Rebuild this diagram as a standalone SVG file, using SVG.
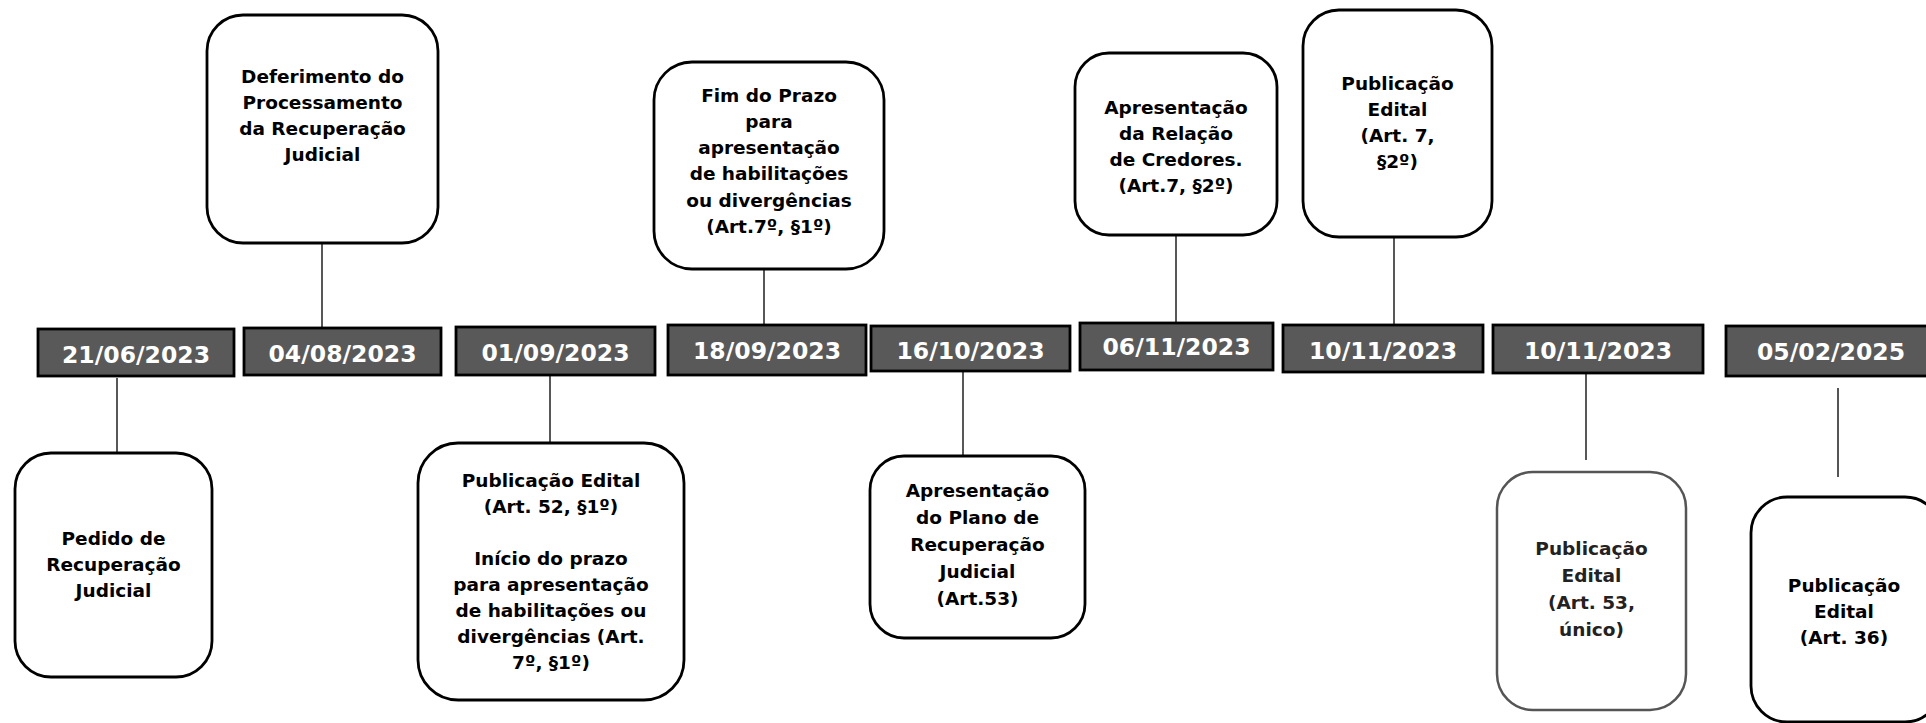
<svg xmlns="http://www.w3.org/2000/svg" width="1926" height="723" viewBox="0 0 1926 723">
<style>
.node{fill:#fff;stroke:#000;stroke-width:2.8}
.node2{fill:#fff;stroke:#555;stroke-width:2.5}
.date{fill:#595959;stroke:#000;stroke-width:2.8}
.dt{font-family:"DejaVu Sans",Verdana,sans-serif;font-weight:bold;font-size:23.5px;fill:#fff;text-anchor:middle}
.tx{font-family:"DejaVu Sans",Verdana,sans-serif;font-weight:bold;font-size:18.5px;fill:#000;text-anchor:middle}
.tx2{font-family:"DejaVu Sans",Verdana,sans-serif;font-weight:bold;font-size:18.5px;fill:#222;text-anchor:middle}
.conn{stroke:#111;stroke-width:1.4;fill:none}
</style>
<rect width="1926" height="723" fill="#fff"/>
<g id="connectors">
<line class="conn" x1="117" y1="378" x2="117" y2="463"/>
<line class="conn" x1="322" y1="243" x2="322" y2="328"/>
<line class="conn" x1="550" y1="375" x2="550" y2="443"/>
<line class="conn" x1="764" y1="269" x2="764" y2="325"/>
<line class="conn" x1="963" y1="371" x2="963" y2="456"/>
<line class="conn" x1="1176" y1="235" x2="1176" y2="323"/>
<line class="conn" x1="1394" y1="237" x2="1394" y2="325"/>
<line class="conn" x1="1586" y1="373" x2="1586" y2="460"/>
<line x1="1838" y1="388" x2="1838" y2="477" stroke="#555" stroke-width="2"/>
</g>
<g id="d1"><rect class="date" x="38" y="329" width="196" height="47"/><text class="dt" x="136" y="363">21/06/2023</text></g>
<g id="d2"><rect class="date" x="244" y="328" width="197" height="47"/><text class="dt" x="342.5" y="362">04/08/2023</text></g>
<g id="d3"><rect class="date" x="456" y="327" width="199" height="48"/><text class="dt" x="555.5" y="361">01/09/2023</text></g>
<g id="d4"><rect class="date" x="668" y="325" width="198" height="50"/><text class="dt" x="767" y="359">18/09/2023</text></g>
<g id="d5"><rect class="date" x="871" y="326" width="199" height="45"/><text class="dt" x="970.5" y="359">16/10/2023</text></g>
<g id="d6"><rect class="date" x="1080" y="323" width="193" height="47"/><text class="dt" x="1176.5" y="355">06/11/2023</text></g>
<g id="d7"><rect class="date" x="1283" y="325" width="200" height="47"/><text class="dt" x="1383" y="359">10/11/2023</text></g>
<g id="d8"><rect class="date" x="1493" y="325" width="210" height="48"/><text class="dt" x="1598" y="359">10/11/2023</text></g>
<g id="d9"><rect class="date" x="1726" y="326" width="210" height="50"/><text class="dt" x="1831" y="360">05/02/2025</text></g>

<g id="n-pedido"><rect class="node" x="15" y="453" width="197" height="224" rx="36"/>
<text class="tx" x="113.5"><tspan x="113.5" y="545">Pedido de</tspan><tspan x="113.5" y="571">Recuperação</tspan><tspan x="113.5" y="597">Judicial</tspan></text></g>

<g id="n-deferimento"><rect class="node" x="207" y="15" width="231" height="228" rx="36"/>
<text class="tx"><tspan x="322.5" y="83">Deferimento do</tspan><tspan x="322.5" y="109">Processamento</tspan><tspan x="322.5" y="135">da Recuperação</tspan><tspan x="322.5" y="161">Judicial</tspan></text></g>

<g id="n-edital52"><rect class="node" x="418" y="443" width="266" height="257" rx="40"/>
<text class="tx"><tspan x="551" y="487">Publicação Edital</tspan><tspan x="551" y="513">(Art. 52, §1º)</tspan><tspan x="551" y="565">Início do prazo</tspan><tspan x="551" y="591">para apresentação</tspan><tspan x="551" y="617">de habilitações ou</tspan><tspan x="551" y="643">divergências (Art.</tspan><tspan x="551" y="669">7º, §1º)</tspan></text></g>

<g id="n-fimprazo"><rect class="node" x="654" y="62" width="230" height="207" rx="38"/>
<text class="tx"><tspan x="769" y="102">Fim do Prazo</tspan><tspan x="769" y="128">para</tspan><tspan x="769" y="154">apresentação</tspan><tspan x="769" y="180">de habilitações</tspan><tspan x="769" y="207">ou divergências</tspan><tspan x="769" y="233">(Art.7º, §1º)</tspan></text></g>

<g id="n-plano"><rect class="node" x="870" y="456" width="215" height="182" rx="34"/>
<text class="tx"><tspan x="977.5" y="497">Apresentação</tspan><tspan x="977.5" y="524">do Plano de</tspan><tspan x="977.5" y="551">Recuperação</tspan><tspan x="977.5" y="578">Judicial</tspan><tspan x="977.5" y="605">(Art.53)</tspan></text></g>

<g id="n-relacao"><rect class="node" x="1075" y="53" width="202" height="182" rx="34"/>
<text class="tx"><tspan x="1176" y="114">Apresentação</tspan><tspan x="1176" y="140">da Relação</tspan><tspan x="1176" y="166">de Credores.</tspan><tspan x="1176" y="192">(Art.7, §2º)</tspan></text></g>

<g id="n-edital7"><rect class="node" x="1303" y="10" width="189" height="227" rx="36"/>
<text class="tx"><tspan x="1397.5" y="90">Publicação</tspan><tspan x="1397.5" y="116">Edital</tspan><tspan x="1397.5" y="142">(Art. 7,</tspan><tspan x="1397.5" y="168">§2º)</tspan></text></g>

<g id="n-edital53"><rect class="node2" x="1497" y="472" width="189" height="238" rx="36"/>
<text class="tx2"><tspan x="1591.5" y="555">Publicação</tspan><tspan x="1591.5" y="582">Edital</tspan><tspan x="1591.5" y="609">(Art. 53,</tspan><tspan x="1591.5" y="636">único)</tspan></text></g>

<g id="n-edital36"><rect class="node" x="1751" y="497" width="190" height="225" rx="36"/>
<text class="tx"><tspan x="1844" y="592">Publicação</tspan><tspan x="1844" y="618">Edital</tspan><tspan x="1844" y="644">(Art. 36)</tspan></text></g>
</svg>
